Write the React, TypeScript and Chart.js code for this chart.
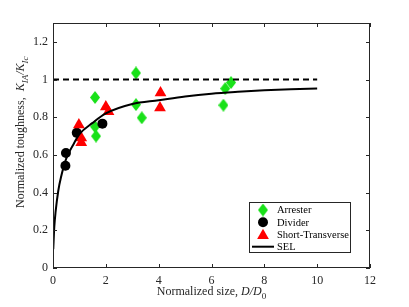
import React, { useEffect, useRef } from 'react';
import { Chart, registerables } from 'chart.js';

Chart.register(...registerables);

// ---- data ----
const arresterD = [1.59, 1.59, 1.63, 3.14, 3.14, 3.36, 6.45, 6.52, 6.74];
const arresterK = [0.905, 0.75, 0.70, 1.035, 0.867, 0.797, 0.864, 0.952, 0.984];
const dividerD = [0.47, 0.49, 0.9, 1.87];
const dividerK = [0.543, 0.61, 0.717, 0.766];
const stD = [0.98, 1.07, 1.07, 2.0, 2.1, 4.07, 4.05];
const stK = [0.76, 0.69, 0.665, 0.855, 0.83, 0.93, 0.85];
const selD = [0.01, 0.05, 0.1, 0.2, 0.3, 0.5, 0.75, 1, 1.5, 2, 3, 4, 5, 6, 7, 8, 9, 10];
const selK = [0.1, 0.22, 0.3, 0.41, 0.48, 0.58, 0.65, 0.71, 0.77, 0.82, 0.87, 0.89, 0.91, 0.925, 0.935, 0.943, 0.949, 0.953];
const refD = [0, 10];
const refK = [1, 1];
const xTicks = [0, 2, 4, 6, 8, 10, 12];
const yTicks = [0, 0.2, 0.4, 0.6, 0.8, 1, 1.2];
const yTickLabels = ['0', '0.2', '0.4', '0.6', '0.8', '1', '1.2'];
const legendLabels = ['Arrester', 'Divider', 'Short-Transverse', 'SEL'];

const GREEN = 'rgb(25,225,25)';
const RED = '#ff0000';
const BLACK = '#000000';
const AXIS = '#262626';
const FONT = '"Liberation Serif", "Times New Roman", serif';

function pts(xs: number[], ys: number[]) {
  return xs.map((x, i) => ({ x, y: ys[i] }));
}

function makeDiamond(w: number, h: number, color: string) {
  const c = document.createElement('canvas');
  c.width = w;
  c.height = h;
  const g = c.getContext('2d')!;
  g.fillStyle = color;
  g.beginPath();
  g.moveTo(w / 2, 0);
  g.lineTo(w, h / 2);
  g.lineTo(w / 2, h);
  g.lineTo(0, h / 2);
  g.closePath();
  g.fill();
  return c;
}

type Seg = { t: string; it?: boolean; sub?: boolean; size?: number };

function drawRich(
  ctx: CanvasRenderingContext2D,
  segs: Seg[],
  x0: number,
  baseY: number,
  size: number,
  align: 'center' | 'left'
) {
  const sz = (s: Seg) => s.size ?? (s.sub ? Math.round(size * 0.72) : size);
  const fontOf = (s: Seg) => `${s.it ? 'italic ' : ''}${sz(s)}px ${FONT}`;
  let total = 0;
  for (const s of segs) {
    ctx.font = fontOf(s);
    total += ctx.measureText(s.t).width;
  }
  let x = align === 'center' ? x0 - total / 2 : x0;
  ctx.textAlign = 'left';
  ctx.textBaseline = 'alphabetic';
  for (const s of segs) {
    ctx.font = fontOf(s);
    ctx.fillText(s.t, x, baseY + (s.sub ? size * 0.3 : 0));
    x += ctx.measureText(s.t).width;
  }
}

function triPath(ctx: CanvasRenderingContext2D, x: number, y: number, r: number) {
  ctx.beginPath();
  ctx.moveTo(x, y - r);
  ctx.lineTo(x + Math.sin((2 * Math.PI) / 3) * r, y - Math.cos((2 * Math.PI) / 3) * r);
  ctx.lineTo(x + Math.sin((4 * Math.PI) / 3) * r, y - Math.cos((4 * Math.PI) / 3) * r);
  ctx.closePath();
}

export default function App() {
  const ref = useRef<HTMLCanvasElement | null>(null);

  useEffect(() => {
    document.body.style.margin = '0';
    const canvas = ref.current!;
    const diamond = makeDiamond(10, 13, GREEN);

    const decor = {
      id: 'decor',
      afterDraw(chart: any) {
        const ctx: CanvasRenderingContext2D = chart.ctx;
        const { left, right, top, bottom } = chart.chartArea;
        const xs = chart.scales.x;
        const ys = chart.scales.y;
        ctx.save();
        // frame
        ctx.strokeStyle = AXIS;
        ctx.lineWidth = 1;
        ctx.strokeRect(left + 0.5, top + 0.5, right - left - 1, bottom - top - 1);
        // inward ticks on all sides
        const tl = 4;
        ctx.beginPath();
        for (const v of xTicks) {
          const px = Math.round(xs.getPixelForValue(v)) + 0.5;
          ctx.moveTo(px, bottom);
          ctx.lineTo(px, bottom - tl);
          ctx.moveTo(px, top);
          ctx.lineTo(px, top + tl);
        }
        for (const v of yTicks) {
          const py = Math.round(ys.getPixelForValue(v)) + 0.5;
          ctx.moveTo(left, py);
          ctx.lineTo(left + tl, py);
          ctx.moveTo(right, py);
          ctx.lineTo(right - tl, py);
        }
        ctx.stroke();

        // axis titles
        ctx.fillStyle = AXIS;
        drawRich(
          ctx,
          [{ t: 'Normalized size, ' }, { t: 'D/D', it: true }, { t: '0', sub: true }],
          (left + right) / 2,
          295,
          12,
          'center'
        );
        ctx.save();
        ctx.translate(24, 208);
        ctx.rotate(-Math.PI / 2);
        drawRich(
          ctx,
          [
            { t: 'Normalized toughness,  ' },
            { t: 'K', it: true, size: 12 },
            { t: 'IA', it: true, sub: true, size: 9 },
            { t: '/', it: true, size: 12 },
            { t: 'K', it: true, size: 12 },
            { t: 'Ic', it: true, sub: true, size: 9 },
          ],
          0,
          0,
          12,
          'left'
        );
        ctx.restore();

        // legend
        const bx = 249.5, by = 202.5, bw = 101, bh = 50;
        ctx.fillStyle = '#ffffff';
        ctx.fillRect(bx, by, bw, bh);
        ctx.strokeStyle = AXIS;
        ctx.lineWidth = 1;
        ctx.strokeRect(bx, by, bw, bh);
        const mx = 263;
        const rows = [210, 222.3, 234.5, 246.7];
        ctx.drawImage(diamond, mx - 5, rows[0] - 6.5);
        ctx.fillStyle = BLACK;
        ctx.beginPath();
        ctx.arc(mx, rows[1], 5, 0, Math.PI * 2);
        ctx.fill();
        ctx.fillStyle = RED;
        triPath(ctx, mx, rows[2] + 1, 6.8);
        ctx.fill();
        ctx.strokeStyle = BLACK;
        ctx.lineWidth = 2;
        ctx.beginPath();
        ctx.moveTo(252, rows[3]);
        ctx.lineTo(274, rows[3]);
        ctx.stroke();
        ctx.fillStyle = '#000000';
        ctx.font = `10.5px ${FONT}`;
        ctx.textAlign = 'left';
        ctx.textBaseline = 'middle';
        legendLabels.forEach((l, i) => ctx.fillText(l, 277, rows[i] + 0.5));
        ctx.restore();
      },
    };

    Chart.defaults.font.family = FONT;

    const chart = new Chart(canvas, {
      type: 'scatter',
      data: {
        datasets: [
          {
            label: 'Arrester',
            data: pts(arresterD, arresterK),
            pointStyle: diamond as any,
            pointRadius: 6,
            backgroundColor: GREEN,
            borderColor: GREEN,
            order: 5,
          },
          {
            label: 'Divider',
            data: pts(dividerD, dividerK),
            pointStyle: 'circle',
            pointRadius: 5,
            backgroundColor: BLACK,
            borderColor: BLACK,
            borderWidth: 0,
            order: 4,
          },
          {
            label: 'Short-Transverse',
            data: pts(stD, stK),
            pointStyle: 'triangle',
            pointRadius: 6.8,
            backgroundColor: RED,
            borderColor: RED,
            borderWidth: 0,
            order: 3,
          },
          {
            label: 'SEL',
            data: pts(selD, selK),
            showLine: true,
            pointRadius: 0,
            borderColor: BLACK,
            borderWidth: 2,
            cubicInterpolationMode: 'monotone',
            order: 2,
          } as any,
          {
            label: 'ref',
            data: pts(refD, refK),
            showLine: true,
            pointRadius: 0,
            borderColor: BLACK,
            borderWidth: 2,
            borderDash: [6, 4],
            order: 1,
          } as any,
        ],
      },
      options: {
        animation: false,
        responsive: false,
        devicePixelRatio: 1,
        layout: { padding: { left: 0, top: 23, right: 39, bottom: 0 } },
        plugins: { legend: { display: false }, tooltip: { enabled: false } },
        scales: {
          x: {
            type: 'linear',
            min: 0,
            max: 12,
            grid: { display: false, drawTicks: false, tickLength: 0 },
            border: { display: false },
            afterBuildTicks: (s: any) => {
              s.ticks = xTicks.map((v) => ({ value: v }));
            },
            afterFit: (s: any) => {
              s.height = 39;
            },
            ticks: { color: AXIS, font: { size: 12, family: FONT }, padding: 6, maxRotation: 0 },
          },
          y: {
            type: 'linear',
            min: 0,
            max: 1.3,
            grid: { display: false, drawTicks: false, tickLength: 0 },
            border: { display: false },
            afterBuildTicks: (s: any) => {
              s.ticks = yTicks.map((v) => ({ value: v }));
            },
            afterFit: (s: any) => {
              s.width = 53;
            },
            ticks: {
              color: AXIS,
              font: { size: 12, family: FONT },
              padding: 5,
              callback: (_v: any, i: number) => yTickLabels[i],
            },
          },
        },
      },
      plugins: [decor],
    });

    return () => chart.destroy();
  }, []);

  return (
    <div style={{ position: 'absolute', left: 0, top: 0, width: 409, height: 307, background: '#fff' }}>
      <canvas ref={ref} width={409} height={307} style={{ width: 409, height: 307, display: 'block' }} />
    </div>
  );
}
